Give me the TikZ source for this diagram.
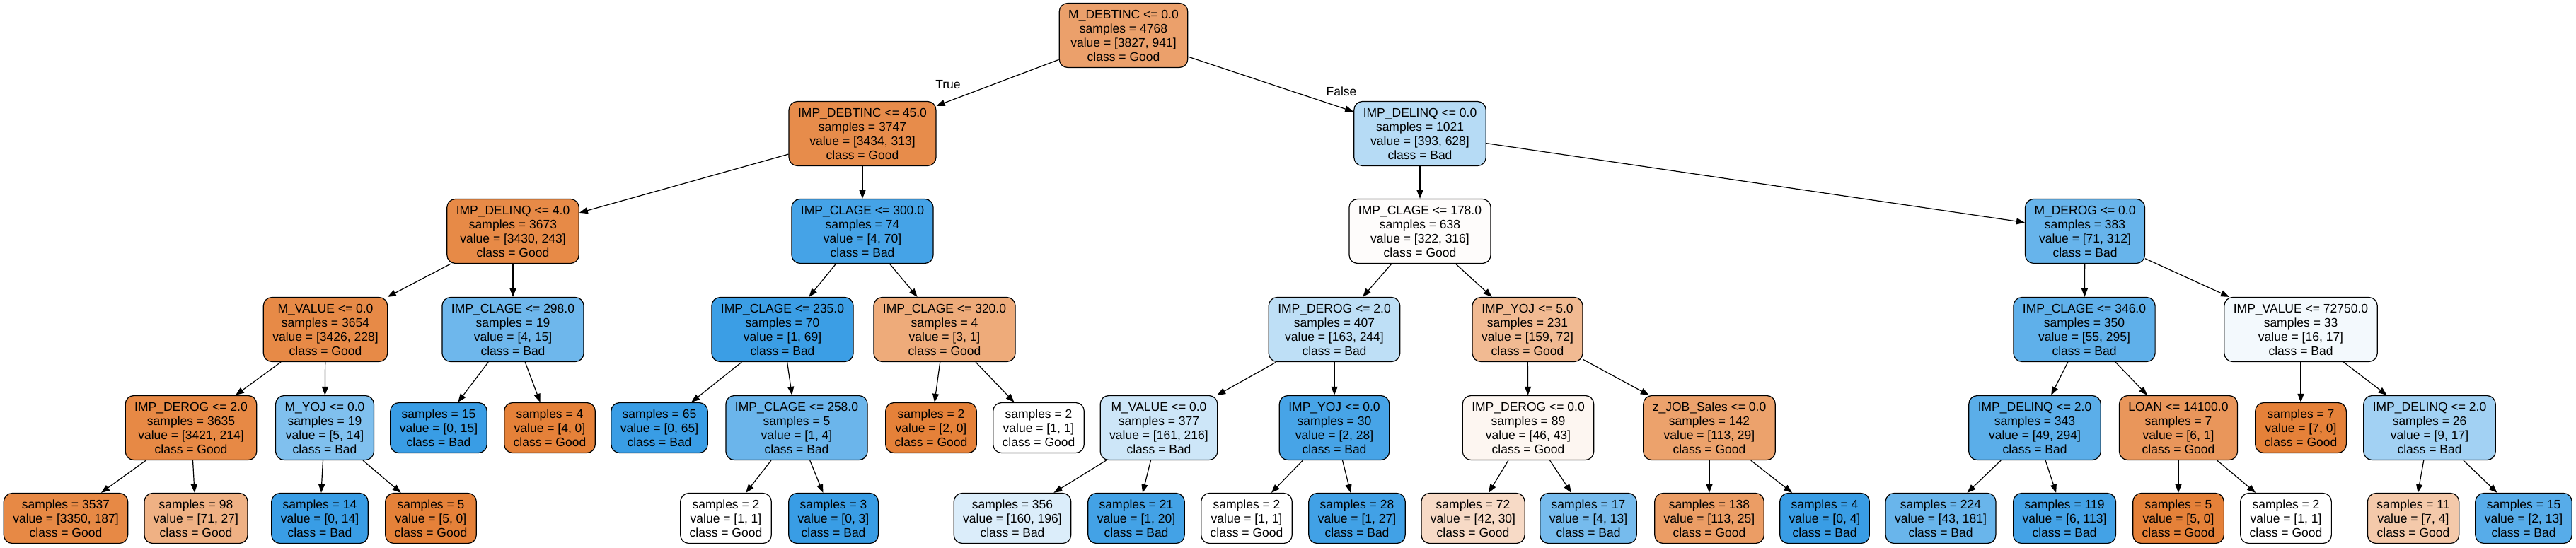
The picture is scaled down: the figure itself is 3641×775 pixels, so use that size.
\documentclass[tikz,border=0pt]{standalone}
\usepackage{fontspec}
\setmainfont{Liberation Sans}
\usepackage{tikz}
\usetikzlibrary{arrows.meta}
\definecolor{goodorange}{HTML}{e58139}
\definecolor{badblue}{HTML}{399de5}

\begin{document}
\begin{tikzpicture}[x=1pt, y=-1pt,
	treebox/.style={draw, line width=1.2pt, rounded corners=12pt, align=center, inner xsep=13pt, inner ysep=2pt, font=\fontsize{17.5}{20}\selectfont},
	splitbox/.style={treebox, minimum height=91pt},
	leafbox/.style={treebox, minimum height=71pt},
	goodfill/.style={fill=goodorange!#1!white},
	badfill/.style={fill=badblue!#1!white},
	treeedge/.style={-{Triangle[length=12pt, width=9pt]}, line width=1.2pt},
	edgelbl/.style={font=\fontsize{17.5}{20}\selectfont}]
	\useasboundingbox (0,0) rectangle (3641,775);
	\node[splitbox, goodfill=75] (root) at (1588,50) {M\_DEBTINC <= 0.0\\samples = 4768\\value = [3827, 941]\\class = Good};
	\node[splitbox, goodfill=91] (debtinc) at (1219,189) {IMP\_DEBTINC <= 45.0\\samples = 3747\\value = [3434, 313]\\class = Good};
	\node[splitbox, badfill=37] (delinqa) at (2007,189) {IMP\_DELINQ <= 0.0\\samples = 1021\\value = [393, 628]\\class = Bad};
	\node[splitbox, goodfill=93] (delinqb) at (725,327) {IMP\_DELINQ <= 4.0\\samples = 3673\\value = [3430, 243]\\class = Good};
	\node[splitbox, badfill=94] (clagea) at (1219,327) {IMP\_CLAGE <= 300.0\\samples = 74\\value = [4, 70]\\class = Bad};
	\node[splitbox, goodfill=2] (clageb) at (2007,327) {IMP\_CLAGE <= 178.0\\samples = 638\\value = [322, 316]\\class = Good};
	\node[splitbox, badfill=77] (mderog) at (2947,327) {M\_DEROG <= 0.0\\samples = 383\\value = [71, 312]\\class = Bad};
	\node[splitbox, goodfill=93] (mvaluea) at (460,466) {M\_VALUE <= 0.0\\samples = 3654\\value = [3426, 228]\\class = Good};
	\node[splitbox, badfill=73] (clagec) at (725,466) {IMP\_CLAGE <= 298.0\\samples = 19\\value = [4, 15]\\class = Bad};
	\node[splitbox, badfill=99] (claged) at (1106,466) {IMP\_CLAGE <= 235.0\\samples = 70\\value = [1, 69]\\class = Bad};
	\node[splitbox, goodfill=67] (clagee) at (1335,466) {IMP\_CLAGE <= 320.0\\samples = 4\\value = [3, 1]\\class = Good};
	\node[splitbox, badfill=33] (deroga) at (1886,466) {IMP\_DEROG <= 2.0\\samples = 407\\value = [163, 244]\\class = Bad};
	\node[splitbox, goodfill=55] (yoja) at (2159,466) {IMP\_YOJ <= 5.0\\samples = 231\\value = [159, 72]\\class = Good};
	\node[splitbox, badfill=81] (clagef) at (2946,466) {IMP\_CLAGE <= 346.0\\samples = 350\\value = [55, 295]\\class = Bad};
	\node[splitbox, badfill=6] (impvalue) at (3252,466) {IMP\_VALUE <= 72750.0\\samples = 33\\value = [16, 17]\\class = Bad};
	\node[splitbox, goodfill=94] (derogb) at (270,605) {IMP\_DEROG <= 2.0\\samples = 3635\\value = [3421, 214]\\class = Good};
	\node[splitbox, badfill=64] (myoj) at (459,605) {M\_YOJ <= 0.0\\samples = 19\\value = [5, 14]\\class = Bad};
	\node[leafbox, badfill=100] (leafa) at (620,605) {samples = 15\\value = [0, 15]\\class = Bad};
	\node[leafbox, goodfill=100] (leafb) at (777,605) {samples = 4\\value = [4, 0]\\class = Good};
	\node[leafbox, badfill=100] (leafc) at (932,605) {samples = 65\\value = [0, 65]\\class = Bad};
	\node[splitbox, badfill=75] (clageg) at (1126,605) {IMP\_CLAGE <= 258.0\\samples = 5\\value = [1, 4]\\class = Bad};
	\node[leafbox, goodfill=100] (leafd) at (1316,605) {samples = 2\\value = [2, 0]\\class = Good};
	\node[leafbox, goodfill=0] (leafe) at (1468,605) {samples = 2\\value = [1, 1]\\class = Good};
	\node[splitbox, badfill=25] (mvalueb) at (1638,605) {M\_VALUE <= 0.0\\samples = 377\\value = [161, 216]\\class = Bad};
	\node[splitbox, badfill=93] (yojb) at (1886,605) {IMP\_YOJ <= 0.0\\samples = 30\\value = [2, 28]\\class = Bad};
	\node[splitbox, goodfill=7] (derogc) at (2160,605) {IMP\_DEROG <= 0.0\\samples = 89\\value = [46, 43]\\class = Good};
	\node[splitbox, goodfill=74] (jobsales) at (2416,605) {z\_JOB\_Sales <= 0.0\\samples = 142\\value = [113, 29]\\class = Good};
	\node[splitbox, badfill=83] (delinqc) at (2876,605) {IMP\_DELINQ <= 2.0\\samples = 343\\value = [49, 294]\\class = Bad};
	\node[splitbox, goodfill=83] (loan) at (3079,605) {LOAN <= 14100.0\\samples = 7\\value = [6, 1]\\class = Good};
	\node[leafbox, goodfill=100] (leaff) at (3252,605) {samples = 7\\value = [7, 0]\\class = Good};
	\node[splitbox, badfill=47] (delinqd) at (3434,605) {IMP\_DELINQ <= 2.0\\samples = 26\\value = [9, 17]\\class = Bad};
	\node[leafbox, goodfill=94] (leafg) at (93,733) {samples = 3537\\value = [3350, 187]\\class = Good};
	\node[leafbox, goodfill=62] (leafh) at (277,733) {samples = 98\\value = [71, 27]\\class = Good};
	\node[leafbox, badfill=100] (leafi) at (452,733) {samples = 14\\value = [0, 14]\\class = Bad};
	\node[leafbox, goodfill=100] (leafj) at (609,733) {samples = 5\\value = [5, 0]\\class = Good};
	\node[leafbox, goodfill=0] (leafk) at (1026,733) {samples = 2\\value = [1, 1]\\class = Good};
	\node[leafbox, badfill=100] (leafl) at (1178,733) {samples = 3\\value = [0, 3]\\class = Bad};
	\node[leafbox, badfill=18] (leafm) at (1431,733) {samples = 356\\value = [160, 196]\\class = Bad};
	\node[leafbox, badfill=95] (leafn) at (1606,733) {samples = 21\\value = [1, 20]\\class = Bad};
	\node[leafbox, goodfill=0] (leafo) at (1762,733) {samples = 2\\value = [1, 1]\\class = Good};
	\node[leafbox, badfill=96] (leafp) at (1918,733) {samples = 28\\value = [1, 27]\\class = Bad};
	\node[leafbox, goodfill=29] (leafq) at (2082,733) {samples = 72\\value = [42, 30]\\class = Good};
	\node[leafbox, badfill=69] (leafr) at (2245,733) {samples = 17\\value = [4, 13]\\class = Bad};
	\node[leafbox, goodfill=78] (leafs) at (2416,733) {samples = 138\\value = [113, 25]\\class = Good};
	\node[leafbox, badfill=100] (leaft) at (2579,733) {samples = 4\\value = [0, 4]\\class = Bad};
	\node[leafbox, badfill=76] (leafu) at (2743,733) {samples = 224\\value = [43, 181]\\class = Bad};
	\node[leafbox, badfill=95] (leafv) at (2918,733) {samples = 119\\value = [6, 113]\\class = Bad};
	\node[leafbox, goodfill=100] (leafw) at (3079,733) {samples = 5\\value = [5, 0]\\class = Good};
	\node[leafbox, goodfill=0] (leafx) at (3231,733) {samples = 2\\value = [1, 1]\\class = Good};
	\node[leafbox, goodfill=43] (leafy) at (3411,733) {samples = 11\\value = [7, 4]\\class = Good};
	\node[leafbox, badfill=85] (leafz) at (3567,733) {samples = 15\\value = [2, 13]\\class = Bad};
	\node[edgelbl] (truelbl) at (1340,120) {True};
	\node[edgelbl] (falselbl) at (1896,129) {False};
	\draw[treeedge] (root) -- (debtinc);
	\draw[treeedge] (root) -- (delinqa);
	\draw[treeedge] (debtinc) -- (delinqb);
	\draw[treeedge] (debtinc) -- (clagea);
	\draw[treeedge] (delinqa) -- (clageb);
	\draw[treeedge] (delinqa) -- (mderog);
	\draw[treeedge] (delinqb) -- (mvaluea);
	\draw[treeedge] (delinqb) -- (clagec);
	\draw[treeedge] (clagea) -- (claged);
	\draw[treeedge] (clagea) -- (clagee);
	\draw[treeedge] (clageb) -- (deroga);
	\draw[treeedge] (clageb) -- (yoja);
	\draw[treeedge] (mderog) -- (clagef);
	\draw[treeedge] (mderog) -- (impvalue);
	\draw[treeedge] (mvaluea) -- (derogb);
	\draw[treeedge] (mvaluea) -- (myoj);
	\draw[treeedge] (clagec) -- (leafa);
	\draw[treeedge] (clagec) -- (leafb);
	\draw[treeedge] (claged) -- (leafc);
	\draw[treeedge] (claged) -- (clageg);
	\draw[treeedge] (clagee) -- (leafd);
	\draw[treeedge] (clagee) -- (leafe);
	\draw[treeedge] (deroga) -- (mvalueb);
	\draw[treeedge] (deroga) -- (yojb);
	\draw[treeedge] (yoja) -- (derogc);
	\draw[treeedge] (yoja) -- (jobsales);
	\draw[treeedge] (clagef) -- (delinqc);
	\draw[treeedge] (clagef) -- (loan);
	\draw[treeedge] (impvalue) -- (leaff);
	\draw[treeedge] (impvalue) -- (delinqd);
	\draw[treeedge] (derogb) -- (leafg);
	\draw[treeedge] (derogb) -- (leafh);
	\draw[treeedge] (myoj) -- (leafi);
	\draw[treeedge] (myoj) -- (leafj);
	\draw[treeedge] (clageg) -- (leafk);
	\draw[treeedge] (clageg) -- (leafl);
	\draw[treeedge] (mvalueb) -- (leafm);
	\draw[treeedge] (mvalueb) -- (leafn);
	\draw[treeedge] (yojb) -- (leafo);
	\draw[treeedge] (yojb) -- (leafp);
	\draw[treeedge] (derogc) -- (leafq);
	\draw[treeedge] (derogc) -- (leafr);
	\draw[treeedge] (jobsales) -- (leafs);
	\draw[treeedge] (jobsales) -- (leaft);
	\draw[treeedge] (delinqc) -- (leafu);
	\draw[treeedge] (delinqc) -- (leafv);
	\draw[treeedge] (loan) -- (leafw);
	\draw[treeedge] (loan) -- (leafx);
	\draw[treeedge] (delinqd) -- (leafy);
	\draw[treeedge] (delinqd) -- (leafz);
\end{tikzpicture}
\end{document}
